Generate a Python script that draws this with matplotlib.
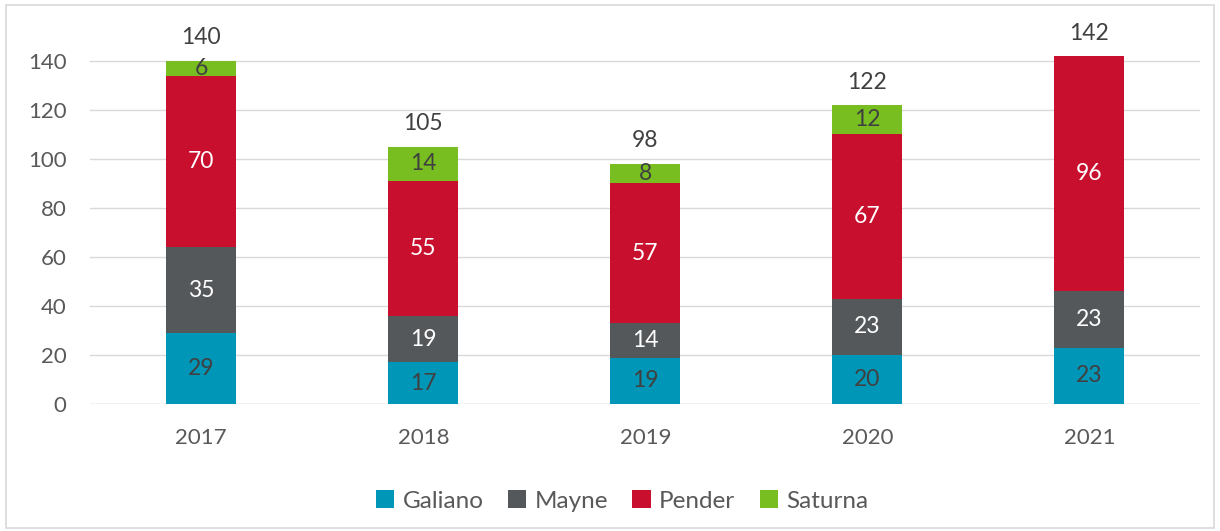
import matplotlib.pyplot as plt
import numpy as np
from matplotlib.patches import Rectangle

# data
years = ["2017", "2018", "2019", "2020", "2021"]
galiano = [29, 17, 19, 20, 23]
mayne = [35, 19, 14, 23, 23]
pender = [70, 55, 57, 67, 96]
saturna = [6, 14, 8, 12, 0]

series = [("Galiano", galiano, "#0096B7", "#404040"),
          ("Mayne", mayne, "#54585A", "white"),
          ("Pender", pender, "#C8102E", "white"),
          ("Saturna", saturna, "#78BE20", "#404040")]

plt.rcParams['font.family'] = ['Lato', 'DejaVu Sans']

fig = plt.figure(figsize=(12.2, 5.31), dpi=100)
ax = fig.add_axes([0.074, 0.239, 0.910, 0.674])

x = np.arange(len(years))
bottom = np.zeros(len(years))
for name, vals, col, tcol in series:
    vals = np.array(vals)
    ax.bar(x, vals, 0.315, bottom=bottom, color=col, label=name, zorder=3)
    for i in range(len(years)):
        if vals[i] > 0:
            ax.text(x[i], bottom[i] + vals[i] / 2, str(vals[i]), ha="center", va="center",
                    color=tcol, fontsize=16.5, zorder=4)
    bottom = bottom + vals

# totals
for i in range(len(years)):
    ax.annotate(str(int(bottom[i])), (x[i], bottom[i]), xytext=(0, 9), textcoords="offset points",
                ha="center", va="bottom", fontsize=16.5, color="#404040")

ax.set_xlim(-0.5, 4.5)
ax.set_ylim(0, 146)
ax.set_yticks(range(0, 141, 20))
ax.set_xticks(x)
ax.set_xticklabels(years)
ax.tick_params(length=0, labelsize=16, colors="#595959")
ax.tick_params(axis="x", pad=17)
ax.tick_params(axis="y", pad=17)
ax.yaxis.grid(True, color="#D9D9D9", linewidth=1, zorder=0)
for s in ax.spines.values():
    s.set_visible(False)
ax.axhline(0, color="#D9D9D9", linewidth=1, zorder=2)

leg = ax.legend(loc="upper center", bbox_to_anchor=(0.479, -0.18), ncol=4, frameon=False,
                fontsize=17.5, handlelength=0.75, handleheight=0.75, handletextpad=0.35, columnspacing=1.0)
for t in leg.get_texts():
    t.set_color("#595959")

fig.patches.append(Rectangle((0.005, 0.005), 0.99, 0.985, transform=fig.transFigure,
                             fill=False, edgecolor="#D9D9D9", linewidth=1.2))

plt.savefig("out.png", dpi=100)
